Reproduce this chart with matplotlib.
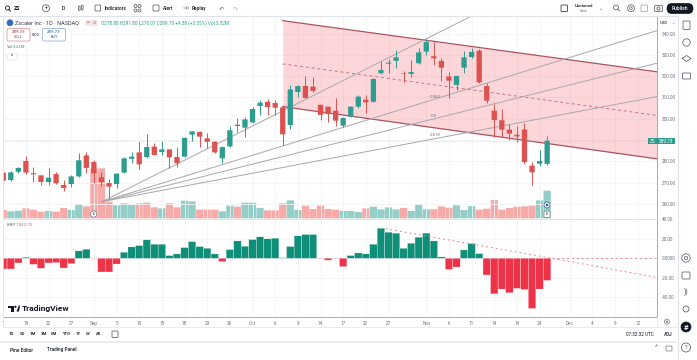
import matplotlib
matplotlib.use('Agg')
import matplotlib.pyplot as plt
from matplotlib.patches import Circle, FancyBboxPatch, Rectangle, Polygon

plt.rcParams['font.family'] = ['Roboto', 'DejaVu Sans']

# daily candles
opens = [274.7, 271.2, 275.1, 280.2, 274.4, 273.4, 270.3, 274.0, 268.9, 269.3,
         272.9, 282.8, 279.7, 272.5, 269.8, 269.3, 274.7, 281.2, 284.2, 282.0,
         286.9, 284.4, 285.6, 282.0, 282.2, 292.5, 293.8, 290.8, 289.2, 281.4,
         287.0, 297.2, 295.8, 298.3, 306.0, 308.0, 307.4, 305.4, 297.1, 312.6,
         315.4, 315.1, 306.6, 305.7, 303.8, 296.8, 301.0, 305.7, 309.0, 308.0,
         321.4, 325.9, 327.2, 321.4, 321.1, 326.1, 331.6, 329.4, 327.2, 319.9,
         315.9, 324.0, 329.0, 332.0, 315.4, 303.8, 299.3, 294.9, 292.5, 295.0,
         278.0, 278.9, 278.8]
highs = [275.1, 275.3, 277.5, 282.5, 277.5, 273.6, 276.7, 275.1, 271.2, 273.6,
         283.8, 284.4, 280.6, 275.1, 271.5, 274.7, 281.9, 284.5, 289.1, 292.8,
         288.5, 289.4, 285.6, 286.6, 291.6, 294.4, 294.4, 293.5, 289.6, 287.2,
         296.6, 300.4, 300.7, 305.7, 308.8, 309.3, 308.8, 306.5, 315.9, 315.9,
         320.1, 319.8, 306.6, 305.7, 309.6, 300.7, 306.2, 311.2, 311.2, 319.0,
         327.3, 327.9, 332.3, 322.6, 327.6, 333.1, 337.4, 336.3, 328.4, 322.1,
         320.6, 332.0, 333.1, 332.6, 316.7, 306.9, 304.4, 297.5, 296.6, 297.8,
         279.5, 285.3, 291.8]
lows = [270.4, 270.7, 274.7, 274.0, 270.4, 268.9, 268.9, 269.3, 266.0, 267.8,
        272.5, 274.7, 270.0, 268.4, 262.9, 267.3, 274.7, 279.1, 276.4, 281.7,
        283.0, 283.0, 276.7, 277.5, 281.9, 289.4, 286.6, 286.1, 283.8, 279.4,
        286.6, 293.8, 291.6, 298.2, 301.8, 301.8, 301.8, 287.7, 295.0, 310.1,
        309.6, 312.7, 299.4, 298.6, 296.6, 296.0, 300.7, 305.2, 302.6, 307.7,
        321.1, 321.7, 323.7, 317.1, 319.5, 325.8, 330.0, 325.3, 317.8, 309.6,
        313.5, 321.7, 328.7, 316.7, 307.3, 291.6, 291.6, 290.0, 289.2, 278.6,
        268.9, 277.8, 278.07]
closes = [270.9, 274.8, 276.9, 274.7, 273.9, 270.3, 272.3, 269.7, 267.5, 272.9,
          280.5, 276.9, 274.4, 270.3, 268.1, 274.2, 281.4, 282.2, 278.6, 286.7,
          283.0, 285.6, 281.9, 279.1, 291.0, 294.1, 291.6, 289.2, 284.2, 286.7,
          294.6, 296.6, 299.7, 304.6, 307.6, 305.5, 305.2, 292.7, 313.8, 315.4,
          309.8, 313.1, 301.8, 302.2, 299.1, 300.4, 305.7, 310.4, 307.7, 318.7,
          322.9, 326.4, 328.9, 321.1, 322.0, 331.2, 336.1, 328.4, 324.0, 317.9,
          320.1, 328.9, 331.4, 317.1, 308.5, 299.4, 294.9, 293.0, 291.7, 279.7,
          274.8, 280.1, 289.73]
# volume in millions
volumes = [1.0, 0.84, 0.92, 1.2, 1.04, 0.8, 0.88, 0.8, 1.24, 1.0,
           1.72, 1.44, 6.0, 6.0, 2.0, 1.56, 1.8, 1.6, 1.8, 1.88,
           1.32, 1.2, 1.8, 1.32, 2.12, 2.04, 1.04, 1.04, 1.04, 0.84,
           1.52, 1.4, 1.88, 1.88, 1.24, 0.96, 0.96, 1.8, 2.16, 1.0,
           1.52, 1.12, 1.52, 1.12, 1.04, 0.88, 0.88, 0.76, 1.2, 1.4,
           1.08, 1.32, 1.08, 1.24, 0.88, 1.68, 1.08, 1.08, 1.44, 1.28,
           1.56, 1.0, 1.48, 1.04, 1.16, 2.2, 1.04, 1.24, 1.4, 1.44,
           1.52, 2.16, 3.32]
# bar 19 has a red volume bar under a green candle
vol_red_days = [19]
bbp = [-11.0, -11.0, -4.8, 1.0, -6.2, -10.3, -4.8, -4.5, -10.0, -5.5,
       7.6, 9.3, -0.3, -14.1, -14.1, -5.9, 6.2, 11.7, 13.1, 19.0,
       14.5, 14.5, 2.8, 4.5, 11.0, 17.2, 12.1, 10.3, 4.5, -3.4,
       9.0, 17.9, 12.4, 19.3, 22.1, 20.0, 20.7, 0.5, 12.1, 23.1,
       24.5, 24.5, -0.3, -2.0, -0.3, -8.6, 2.8, 5.5, 4.5, 14.5,
       31.0, 26.9, 25.9, 10.3, 15.5, 21.7, 25.9, 17.9, 1.4, -11.4,
       -9.0, 8.6, 15.2, 4.8, -17.2, -36.6, -31.7, -35.5, -31.0, -32.1,
       -51.7, -31.7, -22.75]

date_ticks = [0, 3, 6, 9, 12, 15, 18, 21, 24, 27, 30, 33, 36, 39, 42, 45, 48, 51,
              56, 59, 62, 65, 68, 71, 75, 78, 81, 84]
date_labels = ['1', '19', '22', '27', 'Sep', '5', '10', '15', '18', '23', '26', 'Oct', '6', '9',
               '14', '17', '22', '27', 'Nov', '6', '11', '14', '19', '24', 'Dec', '4', '9', '12']
price_ticks = [260, 270, 280, 290, 300, 310, 320, 330, 340]
bbp_ticks = [-40, -20, 0, 20, 40]

# parallel channel drawn on the chart
channel_x = [37, 86.5]
channel_top = [346.1, 322.1]
channel_mid = [325.8, 301.6]
channel_low = [305.7, 281.2]
# fib fan from the September low
fan_x = [13.05, 86.5]
fan_start = 261.0
fan_ends = [392.0, 341.4, 326.1, 310.4]
fan_labels = [(57.2, 310.4, '0.382'), (57.0, 301.4, '0.5'), (57.2, 292.5, '0.618')]
# trend line on the BBP pane
bbp_line_x = [50.6, 72.6, 86.5]
bbp_line_y = [30.5, 0.0, -19.6]
last_close = 289.73

GREEN = '#2E9C8E'
RED = '#DC5250'
VOL_GREEN = '#93CFC8'
VOL_RED = '#F7ABA9'
BBP_GREEN = '#108F78'
BBP_RED = '#EE3348'
GRID = '#F3F4F6'
TEXT = '#131722'
GREY = '#6F7380'
LINE = '#E0E3EB'
W, H = 697.0, 360.0

fig = plt.figure(figsize=(6.97, 3.6), dpi=100)
X0, X1 = 3.0, 656.7
ax = fig.add_axes([X0 / W, (H - 219) / H, (X1 - X0) / W, 203 / H])
ax_bbp = fig.add_axes([X0 / W, (H - 316.7) / H, (X1 - X0) / W, 97.7 / H])
ax_vol = ax.twinx()
ax.set_zorder(2)
ax_vol.set_zorder(1)
ax.patch.set_visible(False)

idx = list(range(len(opens)))
colors = [GREEN if c >= o else RED for o, c in zip(opens, closes)]
vol_colors = [VOL_RED if c == RED or i in vol_red_days else VOL_GREEN for i, c in enumerate(colors)]

# volume sits behind the candles
vol_bars = ax_vol.bar(idx, volumes, width=0.96, color=vol_colors)
ax_vol.set_ylim(-0.08, 24.3)
ax_vol.axis('off')

ax.fill_between(channel_x, channel_low, channel_top, color='#F23645', alpha=0.2, lw=0, zorder=1)
ax.plot(channel_x, channel_top, color='#A9545F', lw=0.9, zorder=2)
ax.plot(channel_x, channel_low, color='#A9545F', lw=0.9, zorder=2)
ax.plot(channel_x, channel_mid, color='#C9727C', lw=0.7, ls=(0, (3, 3)), zorder=2)
for end in fan_ends:
    ax.plot(fan_x, [fan_start, end], color='#A8A8AC', lw=0.7, zorder=2)
for x, y, s in fan_labels:
    ax.text(x, y, s, fontsize=3.2, color=GREY, ha='center', va='center', zorder=3)
ax.axhline(last_close, color='#B9BDC4', lw=0.5, ls=(0, (1, 2)), zorder=2)

ax.vlines(idx, lows, highs, colors=colors, lw=0.7, zorder=4)
bodies = ax.bar(idx, [c - o for o, c in zip(opens, closes)], bottom=opens, width=0.7, color=colors, zorder=5)

ax.set_xlim(-0.03, 86.5)
ax.set_ylim(252.9, 348.3)
ax.set_yticks(price_ticks)
# the last price tag covers the 290 label
ax.set_yticklabels(['' if t == 290 else f'{t:.2f}' for t in price_ticks])
ax.yaxis.tick_right()
ax.set_xticks(date_ticks)
ax.tick_params(axis='x', length=0, labelbottom=False)
ax.tick_params(axis='y', length=0, labelsize=3.3, labelcolor=GREY, pad=3.5)
ax.grid(True, color=GRID, lw=0.6, zorder=0)
ax.set_axisbelow(True)

osc_bars = ax_bbp.bar(idx, bbp, width=0.98, color=[BBP_GREEN if v >= 0 else BBP_RED for v in bbp],
                      edgecolor='#FFFFFF', lw=0.15, zorder=3)
ax_bbp.plot(bbp_line_x, bbp_line_y, color='#D98A92', lw=0.7, ls=(0, (2, 3)), zorder=4)
ax_bbp.plot(bbp_line_x[1:], [0, 0], color='#D98A92', lw=0.7, ls=(0, (2, 3)), zorder=4)
ax_bbp.set_xlim(-0.03, 86.5)
ax_bbp.set_ylim(-60.2, 40.5)
ax_bbp.set_xticks(date_ticks)
ax_bbp.set_xticklabels(date_labels)
ax_bbp.set_yticks(bbp_ticks)
ax_bbp.set_yticklabels(['-40.00', '-20.00', '0.0000', '20.00', '40.00'])
ax_bbp.yaxis.tick_right()
ax_bbp.tick_params(length=0, labelsize=3.3, labelcolor=GREY)
ax_bbp.tick_params(axis='y', pad=3.5)
ax_bbp.tick_params(axis='x', pad=3)
ax_bbp.grid(True, color=GRID, lw=0.6, zorder=0)
ax_bbp.set_axisbelow(True)

# keep bar widths even instead of snapping each one to whole pixels
for group in (vol_bars, bodies, osc_bars):
    for patch in group:
        patch.set_snap(False)

for a in (ax, ax_bbp, ax_vol):
    for side in ('top', 'left'):
        a.spines[side].set_visible(False)
ax.spines['bottom'].set_color(LINE)
ax.spines['bottom'].set_linewidth(0.7)
for a in (ax, ax_bbp):
    a.spines['right'].set_color('#A8ABB3')
    a.spines['right'].set_linewidth(0.7)
ax_bbp.spines['bottom'].set_color('#A8ABB3')
ax_bbp.spines['bottom'].set_linewidth(0.7)

# toolbars, legend and watermark go on a pixel-sized overlay
ui = fig.add_axes([0, 0, 1, 1], zorder=10)
ui.set_xlim(0, W)
ui.set_ylim(H, 0)
ui.axis('off')
ui.patch.set_visible(False)


def label(x, y, s, size=3.4, color=TEXT, ha='left', weight='normal'):
    ui.text(x, y, s, fontsize=size, color=color, ha=ha, va='center', fontweight=weight)


def ring(x, y, r=3.5, color='#4A4E5A', lw=0.5, face='none'):
    ui.add_patch(Circle((x, y), r, fc=face, ec=color, lw=lw))


def box(x, y, w, h, color='#4A4E5A', lw=0.5, face='none', rad=0.8):
    ui.add_patch(FancyBboxPatch((x, y), w, h, boxstyle=f'round,pad=0,rounding_size={rad}',
                                fc=face, ec=color, lw=lw))


# frame lines
ui.plot([0, 677], [15.7, 15.7], color=LINE, lw=0.8)
ui.plot([X0, X0], [15.7, 327], color=LINE, lw=0.6)
ui.plot([X0, 677], [327.3, 327.3], color=LINE, lw=0.5)
ui.add_patch(Rectangle((0, 341), 677, 1.8, fc='#ECEDF0', ec='none'))
ui.plot([678, 678], [15.7, 360], color=LINE, lw=0.8)
ui.plot([X1, X1], [316.7, 327.3], color=LINE, lw=0.5)

# top bar
ring(7.5, 8, 2.0, lw=0.6, color=TEXT)
ui.plot([9, 10.6], [9.6, 11.2], color=TEXT, lw=0.6)
label(14, 8.2, 'ZS', 3.8, weight='bold')
ring(46, 8.3, 3.5)
label(46, 8.3, '+', 3.4, ha='center')
label(63, 8.3, 'D', 3.6, ha='center', weight='medium')
box(78.5, 6, 1.6, 4.5)
box(81.5, 5, 1.6, 5)
box(95, 5, 5.5, 6)
label(105, 8.3, 'Indicators', 3.5, weight='medium')
for gx in (135.5, 139.5):
    for gy in (6, 10.5):
        ring(gx, gy, 1.5)
box(153, 5, 6, 6)
label(162.5, 8.3, 'Alert', 3.5, weight='medium')
label(183, 8.3, '◁◁', 3.2, weight='medium')
label(191.5, 8.3, 'Replay', 3.5, weight='medium')
label(221, 8.3, '↶', 4.5, color=GREY, ha='center')
label(235, 8.3, '↷', 4.5, color='#B2B5BE', ha='center')
box(561, 5, 6.5, 6.5, color=TEXT)
label(584, 6.2, 'Unnamed', 3.2, ha='center', weight='medium')
label(584, 11, 'Save', 2.6, color=GREY, ha='center')
label(601.5, 8.2, '⌄', 3.5, color=GREY, ha='center')
ring(616, 7.5, 2.4)
ui.plot([617.7, 619.5], [9.2, 11], color='#4A4E5A', lw=0.5)
ring(631, 8.2, 3.4)
ring(631, 8.2, 1.3)
box(641, 5, 6.5, 6.5, color='#9498A3')
box(654.5, 5.5, 8, 6)
ring(658.5, 8.5, 1.6)
box(667, 3.5, 26, 10, color=TEXT, face=TEXT, rad=5)
label(680, 8.5, 'Publish', 3.6, color='white', ha='center', weight='medium')

# legend block
ring(10, 22.8, 3.0, color='#2F6DB5', face='#2F6DB5')
label(15, 22.8, 'Zscaler Inc · 1D · NASDAQ', 4.0, color='#3A3E4A')
box(85, 20.5, 12.5, 5, color='#FBE3E5', face='#FBE3E5', rad=1)
label(86.5, 22.8, '═', 3, color=GREY)
label(92.5, 22.8, '⊙', 3, color='#D9636D')
label(101, 22.8, 'O278.80 H291.80 L278.07 C289.73 +9.38 (+3.35%) Vol 3.32M', 3.45, color=GREEN)
box(7, 28.5, 23, 12.5, color='#D98A92', face='white', rad=1.5)
label(18.5, 32, '289.73', 3.2, color='#B5303E', ha='center')
label(18.5, 37.5, 'SELL', 2.8, color='#B5303E', ha='center')
label(36, 34.7, '0.00', 2.8, color=TEXT, ha='center')
box(42.5, 28.5, 23, 12.5, color='#86A8C8', face='white', rad=1.5)
label(54, 32, '289.73', 3.2, color='#2060A0', ha='center')
label(54, 37.5, 'BUY', 2.8, color='#2060A0', ha='center')
label(7, 47.3, 'Vol', 3.2, color=GREY)
label(13, 47.3, '3.32M', 3.2, color=GREEN)
box(7, 53.5, 10, 6.5, color=LINE, face='white', rad=1)
label(12, 56.5, '^', 3.4, color=TEXT, ha='center')
label(7, 225, 'BBP 13', 3.2, color=GREY)
label(20.5, 225, '-22.75', 3.2, color='#D9636D')

# event markers and last price tag
ring(93.7, 214, 3.2, color='#6F7380', face='white')
label(93.7, 214, 'E', 2.6, color=TEXT, ha='center')
ring(547, 205, 3.0, color='#2F4F8F', face='white')
ring(547, 205, 1.0, color='#2F4F8F', face='#2F4F8F')
box(544, 211, 6, 6.5, color='#6F7380', face='white')
label(547, 214.3, 'E', 2.6, color=TEXT, ha='center')
ui.add_patch(Rectangle((648, 138), 27, 6.2, fc=GREEN, ec='none'))
label(650, 141.1, 'ZS', 3.3, color='white')
label(673.5, 141.1, '289.73', 3.3, color='white', ha='right')
label(660, 22.8, 'USD', 3.2, color=TEXT)
label(671.5, 22.8, '⌄', 3, color=GREY)

# watermark
ui.add_patch(Polygon([(8, 305.5), (14, 305.5), (14, 311.5), (11.2, 311.5), (11.2, 308), (8, 308)], fc=TEXT))
ring(15.4, 306.8, 1.1, color=TEXT, face=TEXT, lw=0)
ui.add_patch(Polygon([(16.5, 311.5), (18.8, 305.5), (20, 305.5), (19, 311.5)], fc=TEXT))
label(21.5, 309, 'TradingView', 6.0, weight='bold')

# bottom rows
ranges = [(11.7, '1D'), (22, '5D'), (33, '1M'), (43.7, '3M'), (54.3, '6M'), (66.3, 'YTD'),
          (78.3, '1Y'), (88.3, '5Y'), (99, 'All')]
for x, s in ranges:
    label(x, 334.2, s, 3.2, ha='center', weight='medium')
box(112, 331, 6, 6.5)
label(22, 350, 'Pine Editor', 3.4, ha='center', weight='medium')
label(62, 350, 'Trading Panel', 3.4, ha='center', weight='medium')
label(640, 334.2, '07:32:32 UTC', 3.3, ha='center')
label(668, 334.2, 'ADJ', 3.3, ha='center', weight='medium')
label(656, 348.5, '^', 5, color=GREY, ha='center')
box(666, 346, 6, 5, color=GREY)
ring(667, 321.7, 2.5, color=GREY)
ring(667, 321.7, 0.8, color=GREY)

# right rail
box(683, 21, 7, 8.5)
ring(686.5, 42.5, 3.7)
ui.add_patch(Polygon([(686.5, 55.5), (691, 58.5), (686.5, 61.5), (682, 58.5)], fc='none', ec='#4A4E5A', lw=0.5))
box(682.5, 73, 8, 6)
ring(686, 258, 4.2)
ring(686, 258, 1.6)
box(682, 272, 8, 7)
label(686, 292, '))', 5, color='#4A4E5A', ha='center')
ring(686, 309, 3)
ring(686, 327, 5, color=TEXT, face=TEXT)
label(686, 327, '#', 5.5, color='white', ha='center', weight='bold')
ring(686, 347.5, 4.5)
label(686, 347.5, '?', 4, color='#4A4E5A', ha='center')

fig.savefig('out.png', dpi=100)
